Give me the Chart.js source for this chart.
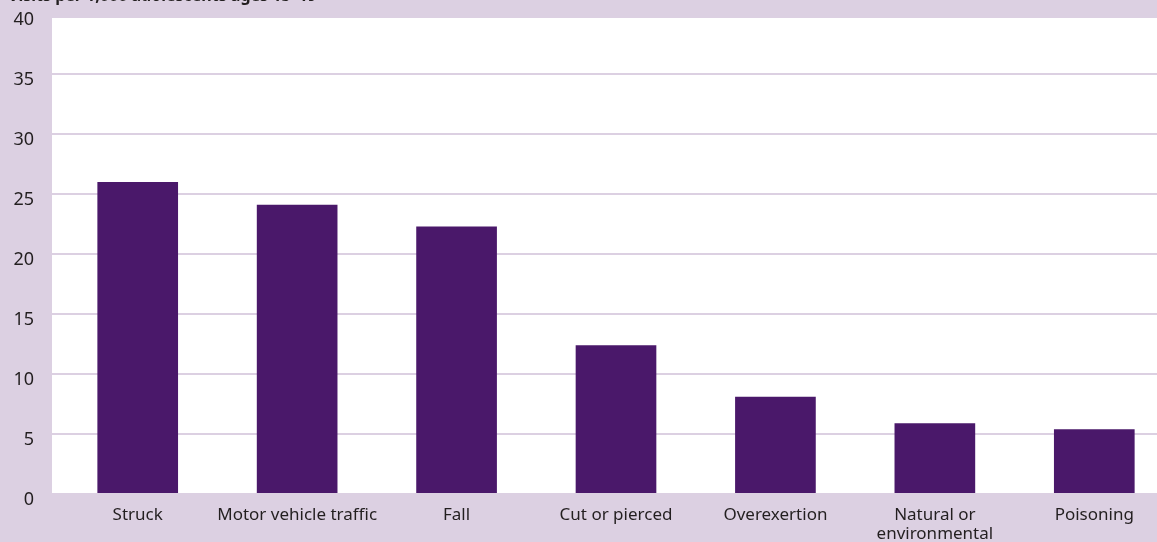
<!DOCTYPE html>
<html>
<head>
<meta charset="utf-8">
<script src="https://cdn.jsdelivr.net/npm/chart.js@4/dist/chart.umd.min.js"></script>
<style>
  html, body { margin:0; padding:0; background:#dcd0e2; overflow:hidden; }
  #wrap { width:1157px; height:542px; overflow:hidden; position:relative; }
  #box { width:1174px; height:542px; }
</style>
</head>
<body>
<div id="wrap"><div id="box"><canvas id="chart"></canvas></div></div>
<script>
// datos
const categorias = ["Struck", "Motor vehicle traffic", "Fall", "Cut or pierced", "Overexertion", ["Natural or", "environmental"], "Poisoning"];
const visitas = [26.0, 24.1, 22.3, 12.4, 8.1, 5.9, 5.4];
const yTicks = [0, 5, 10, 15, 20, 25, 30, 35, 40];
const tituloEje = "Visits per 1,000 adolescents ages 15–19";

const LAV = "#dcd0e2";
const TXT = "#231f20";

// fondo blanco del área + título cortado arriba
const fondoPlugin = {
  id: "fondo",
  beforeDraw(chart) {
    const { ctx, chartArea: a } = chart;
    ctx.save();
    ctx.fillStyle = LAV;
    ctx.fillRect(0, 0, chart.width, chart.height);
    ctx.fillStyle = "#ffffff";
    ctx.fillRect(52, a.top + 4, a.right - 52, a.bottom - a.top - 4);
    ctx.fillStyle = TXT;
    ctx.font = "bold 16px 'Noto Sans'";
    ctx.textBaseline = "alphabetic";
    ctx.fillText(tituloEje, 8, 1);
    ctx.restore();
  }
};

new Chart(document.getElementById("chart"), {
  type: "bar",
  data: {
    labels: categorias,
    datasets: [{
      data: visitas,
      backgroundColor: "#4a186a",
      barPercentage: 0.506,
      categoryPercentage: 1.0
    }]
  },
  options: {
    responsive: true,
    maintainAspectRatio: false,
    animation: false,
    layout: { padding: { top: 14, left: 0, right: 0, bottom: 0 } },
    plugins: { legend: { display: false }, tooltip: { enabled: false } },
    scales: {
      x: {
        afterFit: (s) => { s.height = 48; },
        grid: { display: false },
        border: { display: false },
        ticks: { color: TXT, font: { family: "Noto Sans", size: 17, lineHeight: 1.15 }, maxRotation: 0, minRotation: 0, padding: 3, autoSkip: false }
      },
      y: {
        min: 0, max: 40,
        afterBuildTicks: (s) => { s.ticks = yTicks.map(v => ({ value: v })); },
        afterFit: (s) => { s.width = 58; s.paddingTop = 0; s.paddingBottom = 0; },
        grid: { color: LAV, lineWidth: 2, drawTicks: true, tickLength: 6 },
        border: { display: false },
        ticks: { color: TXT, font: { family: "Noto Sans", size: 18 }, padding: 18, labelOffset: 6 }
      }
    }
  },
  plugins: [fondoPlugin]
});
</script>
</body>
</html>
